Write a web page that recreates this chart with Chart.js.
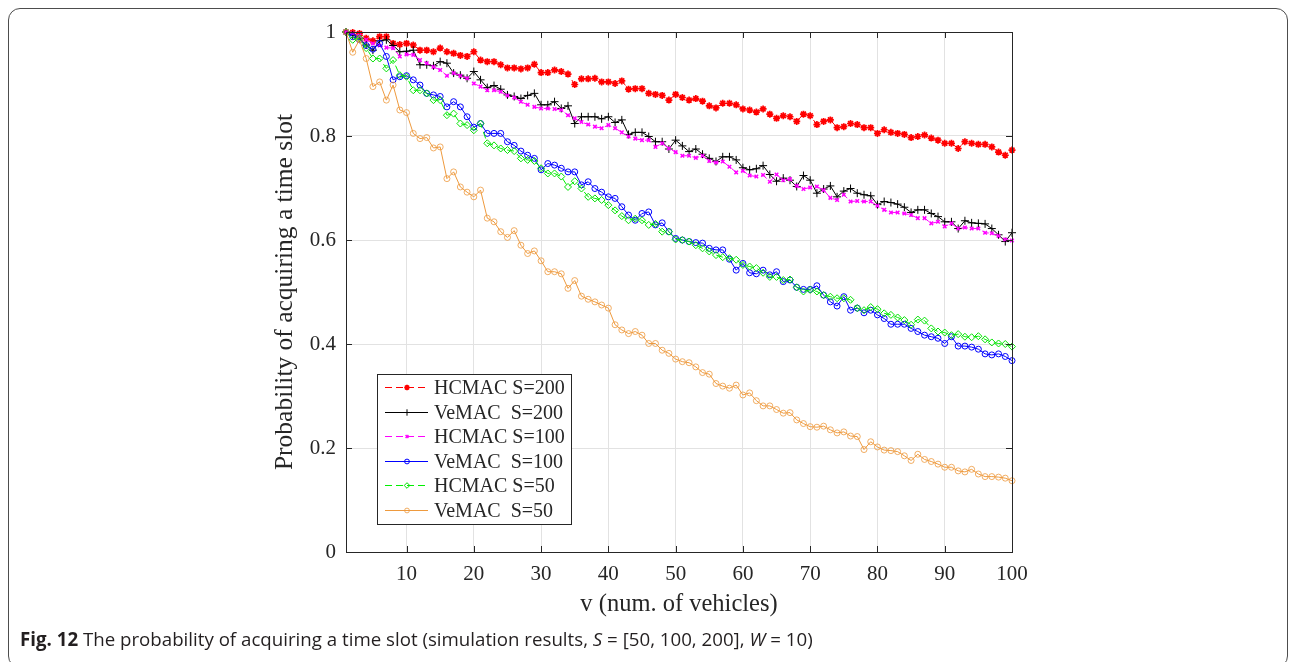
<!DOCTYPE html>
<html>
<head>
<meta charset="utf-8">
<script src="https://cdn.jsdelivr.net/npm/chart.js@4/dist/chart.umd.min.js"></script>
<style>
html, body { margin: 0; padding: 0; background: #fff; }
#wrap { position: relative; width: 1291px; height: 662px; overflow: hidden; }
#frame { position: absolute; left: 8px; top: 8px; width: 1280px; height: 660px; border: 1px solid #4d4d4d; border-radius: 12px; box-sizing: border-box; }
canvas { position: absolute; left: 0; top: 0; }
#caption { position: absolute; left: 20px; top: 626px; font-family: "Open Sans"; font-size: 18.7px; color: #231f20; white-space: nowrap; }
</style>
</head>
<body>
<div id="wrap">
<div id="frame"></div>
<canvas id="myChart" width="1291" height="662"></canvas>
<div id="caption"><b>Fig. 12</b> The probability of acquiring a time slot (simulation results, <i>S</i> = [50, 100, 200], <i>W</i> = 10)</div>
</div>
<script>
"use strict";

// number of vehicles, 1..100
const vehicles = Array.from({ length: 100 }, function (_, i) { return i + 1; });

const xTicks = [10, 20, 30, 40, 50, 60, 70, 80, 90, 100];
const xTickLabels = ["10", "20", "30", "40", "50", "60", "70", "80", "90", "100"];
const yTicks = [0, 0.2, 0.4, 0.6, 0.8, 1];
const yTickLabels = ["0", "0.2", "0.4", "0.6", "0.8", "1"];

const hcmac200 = [
    1.0, 0.999, 0.997, 0.988, 0.983, 0.991, 0.991, 0.978, 0.976, 0.978,
    0.975, 0.965, 0.965, 0.962, 0.969, 0.962, 0.959, 0.955, 0.953, 0.962,
    0.946, 0.943, 0.943, 0.937, 0.931, 0.931, 0.929, 0.931, 0.938, 0.922,
    0.922, 0.927, 0.924, 0.919, 0.899, 0.910, 0.910, 0.911, 0.904, 0.904,
    0.901, 0.906, 0.890, 0.891, 0.891, 0.882, 0.880, 0.878, 0.869, 0.880,
    0.874, 0.869, 0.872, 0.867, 0.858, 0.854, 0.863, 0.863, 0.860, 0.852,
    0.850, 0.846, 0.852, 0.842, 0.834, 0.839, 0.837, 0.828, 0.842, 0.839,
    0.822, 0.828, 0.831, 0.816, 0.818, 0.824, 0.822, 0.816, 0.816, 0.805,
    0.812, 0.807, 0.805, 0.803, 0.797, 0.799, 0.802, 0.796, 0.792, 0.786,
    0.786, 0.776, 0.789, 0.786, 0.784, 0.784, 0.779, 0.769, 0.763, 0.773
];
const vemac200 = [
    1.0, 0.994, 0.988, 0.975, 0.965, 0.983, 0.985, 0.974, 0.962, 0.963,
    0.965, 0.937, 0.937, 0.935, 0.943, 0.940, 0.921, 0.917, 0.911, 0.924,
    0.908, 0.893, 0.897, 0.890, 0.879, 0.876, 0.872, 0.878, 0.882, 0.860,
    0.860, 0.866, 0.853, 0.858, 0.824, 0.837, 0.837, 0.837, 0.833, 0.837,
    0.826, 0.831, 0.803, 0.807, 0.807, 0.799, 0.789, 0.789, 0.775, 0.792,
    0.781, 0.770, 0.775, 0.765, 0.757, 0.751, 0.760, 0.760, 0.754, 0.739,
    0.735, 0.737, 0.743, 0.726, 0.713, 0.719, 0.715, 0.703, 0.724, 0.715,
    0.690, 0.698, 0.704, 0.683, 0.694, 0.699, 0.690, 0.687, 0.685, 0.668,
    0.674, 0.672, 0.669, 0.663, 0.653, 0.658, 0.658, 0.651, 0.645, 0.635,
    0.635, 0.622, 0.637, 0.633, 0.632, 0.631, 0.622, 0.610, 0.597, 0.614
];
const hcmac100 = [
    1.0, 0.997, 0.993, 0.985, 0.978, 0.974, 0.970, 0.969, 0.953, 0.957,
    0.956, 0.946, 0.940, 0.933, 0.927, 0.916, 0.921, 0.916, 0.911, 0.901,
    0.895, 0.888, 0.888, 0.885, 0.878, 0.874, 0.866, 0.860, 0.856, 0.853,
    0.853, 0.852, 0.850, 0.840, 0.834, 0.827, 0.822, 0.818, 0.815, 0.821,
    0.815, 0.807, 0.799, 0.795, 0.792, 0.792, 0.779, 0.786, 0.776, 0.769,
    0.762, 0.762, 0.758, 0.762, 0.752, 0.749, 0.751, 0.741, 0.730, 0.733,
    0.724, 0.722, 0.725, 0.712, 0.726, 0.715, 0.717, 0.704, 0.698, 0.701,
    0.703, 0.696, 0.681, 0.677, 0.687, 0.674, 0.675, 0.674, 0.674, 0.666,
    0.658, 0.653, 0.653, 0.651, 0.648, 0.642, 0.642, 0.632, 0.635, 0.626,
    0.632, 0.622, 0.624, 0.622, 0.622, 0.614, 0.613, 0.608, 0.601, 0.599
];
const vemac100 = [
    1.0, 0.991, 0.985, 0.974, 0.967, 0.978, 0.953, 0.908, 0.914, 0.916,
    0.908, 0.898, 0.882, 0.879, 0.876, 0.856, 0.866, 0.856, 0.837, 0.817,
    0.824, 0.805, 0.805, 0.805, 0.789, 0.782, 0.771, 0.763, 0.757, 0.735,
    0.747, 0.744, 0.738, 0.731, 0.731, 0.706, 0.712, 0.699, 0.692, 0.683,
    0.680, 0.664, 0.648, 0.638, 0.651, 0.654, 0.629, 0.633, 0.616, 0.603,
    0.600, 0.597, 0.595, 0.594, 0.584, 0.581, 0.581, 0.563, 0.542, 0.555,
    0.537, 0.535, 0.542, 0.533, 0.539, 0.520, 0.523, 0.509, 0.505, 0.505,
    0.512, 0.494, 0.481, 0.473, 0.491, 0.465, 0.469, 0.460, 0.465, 0.456,
    0.449, 0.438, 0.438, 0.438, 0.430, 0.424, 0.417, 0.414, 0.411, 0.401,
    0.414, 0.396, 0.396, 0.394, 0.390, 0.381, 0.379, 0.381, 0.376, 0.368
];
const hcmac50 = [
    1.0, 0.985, 0.988, 0.969, 0.949, 0.949, 0.930, 0.946, 0.917, 0.914,
    0.888, 0.888, 0.882, 0.869, 0.869, 0.840, 0.843, 0.824, 0.821, 0.811,
    0.824, 0.786, 0.782, 0.776, 0.773, 0.771, 0.757, 0.754, 0.752, 0.738,
    0.728, 0.728, 0.722, 0.702, 0.713, 0.699, 0.683, 0.680, 0.677, 0.667,
    0.657, 0.646, 0.638, 0.641, 0.638, 0.629, 0.631, 0.616, 0.616, 0.601,
    0.600, 0.597, 0.590, 0.584, 0.578, 0.571, 0.567, 0.565, 0.562, 0.552,
    0.549, 0.546, 0.537, 0.529, 0.529, 0.523, 0.524, 0.509, 0.501, 0.504,
    0.501, 0.494, 0.491, 0.488, 0.488, 0.485, 0.469, 0.465, 0.471, 0.467,
    0.459, 0.456, 0.451, 0.446, 0.437, 0.447, 0.445, 0.430, 0.424, 0.422,
    0.417, 0.419, 0.414, 0.413, 0.415, 0.409, 0.403, 0.401, 0.400, 0.395
];
const vemac50 = [
    1.0, 0.961, 0.985, 0.949, 0.895, 0.904, 0.869, 0.898, 0.850, 0.845,
    0.805, 0.795, 0.797, 0.777, 0.779, 0.718, 0.731, 0.702, 0.692, 0.683,
    0.696, 0.642, 0.635, 0.616, 0.605, 0.618, 0.590, 0.574, 0.579, 0.560,
    0.539, 0.539, 0.535, 0.507, 0.522, 0.492, 0.486, 0.481, 0.475, 0.469,
    0.437, 0.427, 0.420, 0.424, 0.417, 0.401, 0.401, 0.388, 0.382, 0.371,
    0.366, 0.364, 0.356, 0.345, 0.342, 0.324, 0.319, 0.315, 0.321, 0.302,
    0.306, 0.291, 0.281, 0.281, 0.274, 0.267, 0.268, 0.254, 0.247, 0.241,
    0.240, 0.242, 0.235, 0.229, 0.231, 0.223, 0.222, 0.197, 0.212, 0.202,
    0.196, 0.195, 0.193, 0.185, 0.176, 0.188, 0.178, 0.174, 0.169, 0.163,
    0.163, 0.156, 0.154, 0.159, 0.150, 0.145, 0.145, 0.144, 0.142, 0.137
];

const seriesLabels = ["HCMAC S=200", "VeMAC  S=200", "HCMAC S=100", "VeMAC  S=100", "HCMAC S=50", "VeMAC  S=50"];
const seriesValues = [hcmac200, vemac200, hcmac100, vemac100, hcmac50, vemac50];

const looks = [
    { color: "#ff0000", marker: "#ff0000", dash: [7, 4], style: "star", r: 3.5, w: 1.7 },
    { color: "#000000", marker: "#000000", dash: [], style: "cross", r: 4, w: 1 },
    { color: "#ff00ff", marker: "#ff00ff", dash: [7, 4], style: "crossRot", r: 2.5, w: 1.5 },
    { color: "#0000ff", marker: "#0000ff", dash: [], style: "circle", r: 3, w: 1 },
    { color: "#00f000", marker: "#00e000", dash: [7, 4], style: "rectRot", r: 3.5, w: 1 },
    { color: "#ee9a3e", marker: "rgba(238,154,62,0.8)", dash: [], style: "circle", r: 3, w: 1 }
];

const axisColor = "#262626";
const serif = "Liberation Serif";

const datasets = seriesValues.map(function (values, i) {
    const look = looks[i];
    return {
        label: seriesLabels[i],
        data: values.map(function (v, k) { return { x: vehicles[k], y: v }; }),
        borderColor: look.color,
        borderWidth: 1,
        borderDash: look.dash,
        pointStyle: look.style,
        pointRadius: look.r,
        pointBorderWidth: look.w,
        pointBorderColor: look.marker,
        pointBackgroundColor: look.style === "star" || look.style === "cross" || look.style === "crossRot" ? look.marker : "rgba(0,0,0,0)",
        tension: 0,
        fill: false,
        clip: false,
        order: 6 - i
    };
});

// axes box, inward ticks and the legend inside the plot
const boxAndLegend = {
    id: "boxAndLegend",
    afterDraw(chart) {
        const ctx = chart.ctx;
        const a = chart.chartArea;
        const xs = chart.scales.x;
        const ys = chart.scales.y;
        ctx.save();
        ctx.strokeStyle = axisColor;
        ctx.lineWidth = 1;
        ctx.setLineDash([]);
        ctx.beginPath();
        xTicks.forEach(function (v) {
            const px = Math.round(xs.getPixelForValue(v)) + 0.5;
            ctx.moveTo(px, a.bottom); ctx.lineTo(px, a.bottom - 6);
            ctx.moveTo(px, a.top); ctx.lineTo(px, a.top + 6);
        });
        yTicks.forEach(function (v) {
            const py = Math.round(ys.getPixelForValue(v)) + 0.5;
            ctx.moveTo(a.left, py); ctx.lineTo(a.left + 6, py);
            ctx.moveTo(a.right, py); ctx.lineTo(a.right - 6, py);
        });
        ctx.stroke();
        ctx.strokeRect(Math.round(a.left) + 0.5, Math.round(a.top) + 0.5, Math.round(a.right - a.left), Math.round(a.bottom - a.top));

        // legend
        const bx = 377, by = 374, bw = 194, bh = 150;
        ctx.fillStyle = "#ffffff";
        ctx.fillRect(bx, by, bw, bh);
        ctx.strokeRect(bx + 0.5, by + 0.5, bw, bh);
        ctx.font = "20px '" + serif + "'";
        ctx.textBaseline = "middle";
        ctx.textAlign = "left";
        chart.data.datasets.forEach(function (ds, i) {
            const y = Math.round(387 + i * 24.6) + 0.5;
            ctx.strokeStyle = ds.borderColor;
            ctx.lineWidth = 1;
            ctx.setLineDash(ds.borderDash);
            ctx.beginPath();
            ctx.moveTo(385, y);
            ctx.lineTo(428, y);
            ctx.stroke();
            ctx.setLineDash([]);
            ctx.strokeStyle = ds.pointBorderColor;
            ctx.fillStyle = ds.pointBackgroundColor;
            ctx.lineWidth = ds.pointBorderWidth;
            Chart.helpers.drawPoint(ctx, { pointStyle: ds.pointStyle, radius: ds.pointRadius * 0.8, rotation: 0, borderWidth: ds.pointBorderWidth }, 407, y);
            ctx.fillStyle = axisColor;
            ctx.fillText(ds.label, 434, y + 1);
        });
        ctx.restore();
    }
};

const ctx = document.getElementById("myChart");
const chart = new Chart(ctx, {
    type: "line",
    data: { datasets: datasets },
    options: {
        responsive: false,
        devicePixelRatio: 1,
        animation: false,
        layout: { padding: { left: 270, right: 279, top: 32, bottom: 43 } },
        plugins: { legend: { display: false }, tooltip: { enabled: false } },
        scales: {
            x: {
                type: "linear",
                min: 1,
                max: 100,
                afterBuildTicks: function (scale) {
                    scale.ticks = xTicks.map(function (v) { return { value: v }; });
                },
                afterFit: function (scale) { scale.height = 67; },
                ticks: {
                    autoSkip: false,
                    maxRotation: 0,
                    padding: 10,
                    color: axisColor,
                    font: { family: serif, size: 21 },
                    callback: function (v, i) { return xTickLabels[i]; }
                },
                grid: { color: "#e2e2e2", drawTicks: false },
                border: { display: false },
                title: { display: true, text: "v (num. of vehicles)", color: axisColor, padding: 0, font: { family: serif, size: 24.5 } }
            },
            y: {
                min: 0,
                max: 1,
                afterBuildTicks: function (scale) {
                    scale.ticks = yTicks.map(function (v) { return { value: v }; });
                },
                afterFit: function (scale) { scale.width = 76; },
                ticks: {
                    autoSkip: false,
                    padding: 10,
                    color: axisColor,
                    font: { family: serif, size: 21 },
                    callback: function (v, i) { return yTickLabels[i]; }
                },
                grid: { color: "#e2e2e2", drawTicks: false },
                border: { display: false },
                title: { display: true, text: "Probability of acquiring a time slot", color: axisColor, padding: 0, font: { family: serif, size: 25.5 } }
            }
        }
    },
    plugins: [boxAndLegend]
});
</script>
</body>
</html>
